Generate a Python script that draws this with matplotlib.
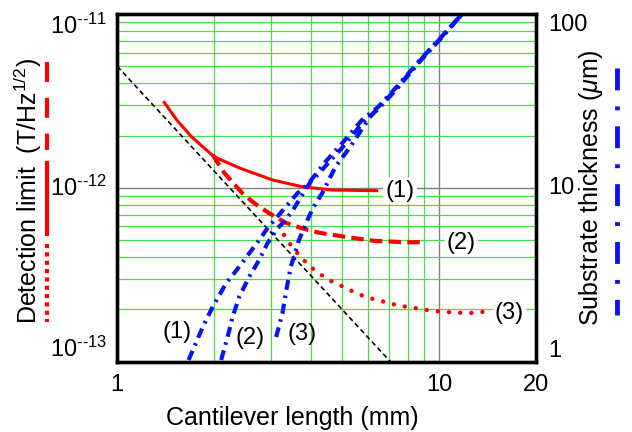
import matplotlib
matplotlib.use("Agg")
import matplotlib.pyplot as plt
from matplotlib.lines import Line2D
from matplotlib.ticker import LogLocator, NullFormatter

plt.rcParams['font.family'] = ['Liberation Sans', 'DejaVu Sans']
plt.rcParams['mathtext.fontset'] = 'custom'
plt.rcParams['mathtext.rm'] = 'Liberation Sans'
plt.rcParams['mathtext.it'] = 'Liberation Sans:italic'
plt.rcParams['mathtext.bf'] = 'Liberation Sans:bold'

# detection limit (left axis, T/Hz^1/2) vs cantilever length (mm)
limit1_x = [1.40, 1.53, 1.70, 2.00, 2.40, 3.04, 3.76, 4.66, 6.41]
limit1_y = [3.10e-12, 2.46e-12, 1.97e-12, 1.51e-12, 1.30e-12, 1.11e-12, 1.015e-12, 9.72e-13, 9.63e-13]

limit2_x = [1.98, 2.15, 2.45, 2.67, 2.97, 3.34, 3.76, 4.24, 5.25, 6.34, 8.04, 9.05]
limit2_y = [1.55e-12, 1.22e-12, 9.30e-13, 8.15e-13, 7.14e-13, 6.30e-13, 5.85e-13, 5.52e-13,
            5.19e-13, 4.95e-13, 4.86e-13, 4.88e-13]

limit3_x = [3.30, 3.49, 3.75, 4.04, 4.39, 4.71, 5.10, 5.50, 5.90, 6.41, 6.93, 7.49, 8.13,
            8.80, 9.49, 10.19, 11.07, 11.89, 12.92, 13.88]
limit3_y = [5.36e-13, 4.59e-13, 3.93e-13, 3.45e-13, 3.08e-13, 2.85e-13, 2.68e-13, 2.49e-13,
            2.37e-13, 2.26e-13, 2.19e-13, 2.10e-13, 2.06e-13, 2.01e-13, 1.965e-13, 1.94e-13,
            1.92e-13, 1.91e-13, 1.91e-13, 1.94e-13]

# black dashed reference line
ref_x = [1.0, 7.07]
ref_y = [5.0e-12, 1.0e-13]

# substrate thickness (right axis, um)
thick1_x = [1.666, 1.845, 1.981, 2.179, 2.395, 2.572, 2.762, 2.93, 3.147, 3.38, 3.63, 3.896,
            4.44, 5.00, 5.765, 6.49, 7.48, 8.74, 10.19, 11.61, 11.9]
thick1_y = [1.023, 1.589, 2.072, 2.825, 3.52, 4.20, 5.01, 5.85, 6.83, 7.97, 9.30, 10.38,
            14.13, 18.04, 24.56, 29.3, 39.0, 54.4, 74.0, 96.5, 102.0]

thick2_x = [2.103, 2.204, 2.284, 2.395, 2.572, 2.762, 2.93, 3.147, 3.341, 3.544, 3.76, 3.99,
            4.236, 5.00, 5.77, 6.49, 7.48, 8.74, 10.19, 11.7, 11.95]
thick2_y = [1.023, 1.392, 1.814, 2.366, 3.08, 3.85, 4.80, 5.85, 6.53, 7.63, 9.10, 10.85,
            12.13, 17.0, 23.5, 28.5, 38.0, 53.5, 73.0, 98.0, 102.0]

thick3_x = [3.118, 3.262, 3.341, 3.462, 3.544, 3.672, 3.805, 3.944, 4.136, 4.335, 4.77, 5.306,
            5.697, 6.117, 6.57, 7.0, 7.48, 8.74, 10.19, 11.7, 11.95]
thick3_y = [1.387, 1.898, 2.474, 3.52, 4.02, 5.01, 5.85, 6.83, 8.15, 9.30, 13.23, 17.25,
            21.04, 25.66, 29.96, 33.5, 38.5, 54.0, 73.5, 98.5, 102.0]

xticks = [1, 10, 20]
xtick_labels = ['1', '10', '20']
left_ticks = [1e-13, 1e-12, 1e-11]
left_labels = ['$10^{\\text{--13}}$', '$10^{\\text{--12}}$', '$10^{\\text{--11}}$']
right_ticks = [1, 10, 100]
right_labels = ['1', '10', '100']

red = '#ff0000'
blue = '#0a14f0'
green = '#45e045'

fig = plt.figure(figsize=(6.32, 4.32), dpi=100)
ax = fig.add_axes([0.1856, 0.1627, 0.662, 0.8049])
ax.set_xscale('log')
ax.set_yscale('log')
ax.set_xlim(1, 20)
ax.set_ylim(1e-13, 1e-11)

ax.set_xticks(xticks)
ax.set_xticklabels(xtick_labels)
ax.xaxis.set_minor_locator(LogLocator(base=10, subs=range(2, 10)))
ax.xaxis.set_minor_formatter(NullFormatter())
ax.set_yticks(left_ticks)
ax.set_yticklabels(left_labels)
ax.yaxis.set_minor_locator(LogLocator(base=10, subs=range(2, 10), numticks=20))
ax.yaxis.set_minor_formatter(NullFormatter())
ax.tick_params(which='both', length=0, labelsize=17)
ax.tick_params(axis='x', pad=9)
ax.tick_params(axis='y', pad=7)
for lab, va in zip(ax.get_yticklabels(), ['bottom', 'center', 'top']):
    lab.set_va(va)

ax.grid(which='minor', color=green, lw=0.9)
ax.grid(which='major', color='#808080', lw=1.0)
ax.set_axisbelow(True)

ax.plot(ref_x, ref_y, color='black', lw=1.2, ls=(0, (3, 2)))
ax.plot(limit1_x, limit1_y, color=red, lw=2.2)
ax.plot(limit2_x, limit2_y, color=red, lw=3.0, ls=(0, (3.0, 1.5)))
ax.plot(limit3_x, limit3_y, color=red, lw=3.2, ls=(0, (0.01, 2.5)), dash_capstyle='round')

box = dict(facecolor='white', edgecolor='none', pad=1.5)
ax.text(7.575, 9.63e-13, '(1)', fontsize=17, ha='center', va='center', bbox=box)
ax.text(11.75, 4.80e-13, '(2)', fontsize=17, ha='center', va='center', bbox=box)
ax.text(16.58, 1.91e-13, '(3)', fontsize=17, ha='center', va='center', bbox=box)

ax2 = ax.twinx()
ax2.set_yscale('log')
ax2.set_ylim(1, 100)
ax2.set_yticks(right_ticks)
ax2.set_yticklabels(right_labels)
ax2.yaxis.set_minor_locator(LogLocator(base=10, subs=range(2, 10), numticks=20))
ax2.yaxis.set_minor_formatter(NullFormatter())
ax2.tick_params(which='both', length=0, labelsize=17, pad=9)
for lab, va in zip(ax2.get_yticklabels(), ['bottom', 'center', 'top']):
    lab.set_va(va)

dashdot = (0, (2.4, 1.4, 0.6, 1.4))
for tx, ty in [(thick1_x, thick1_y), (thick2_x, thick2_y), (thick3_x, thick3_y)]:
    ax2.plot(tx, ty, color=blue, lw=3.0, ls=dashdot)

ax2.text(1.533, 1.488, '(1)', fontsize=17, ha='center', va='center')
ax2.text(2.585, 1.363, '(2)', fontsize=17, ha='center', va='center')
ax2.text(3.76, 1.443, '(3)', fontsize=17, ha='center', va='center')

for a in (ax, ax2):
    for sp in a.spines.values():
        sp.set_linewidth(2.4)
        sp.set_color('black')

fig.text(292 / 632, 1 - 418 / 432, 'Cantilever length (mm)', fontsize=18,
         ha='center', va='center')
fig.text(28 / 632, 1 - 191 / 432, 'Detection limit  (T/Hz$^{1/2}$)', fontsize=18,
         rotation=90, ha='center', va='center')
fig.text(591 / 632, 1 - 188 / 432, 'Substrate thickness ($\\mu$m)', fontsize=18,
         rotation=90, ha='center', va='center')

# line style keys next to the axis titles
lx = 47 / 632
fig.add_artist(Line2D([lx, lx], [1 - 62 / 432, 1 - 150 / 432], transform=fig.transFigure,
                      color=red, lw=3, ls=(0, (4.8, 3.8))))
fig.add_artist(Line2D([lx, lx], [1 - 163 / 432, 1 - 234 / 432], transform=fig.transFigure,
                      color=red, lw=3))
fig.add_artist(Line2D([lx, lx], [1 - 244 / 432, 1 - 322 / 432], transform=fig.transFigure,
                      color=red, lw=3, ls=(0, (1, 1))))
rx = 617 / 632
fig.add_artist(Line2D([rx, rx], [1 - 68 / 432, 1 - 315 / 432], transform=fig.transFigure,
                      color=blue, lw=3.5, ls=(0, (4.5, 3.3, 0.8, 3.3))))

fig.savefig('out.png', dpi=100)
